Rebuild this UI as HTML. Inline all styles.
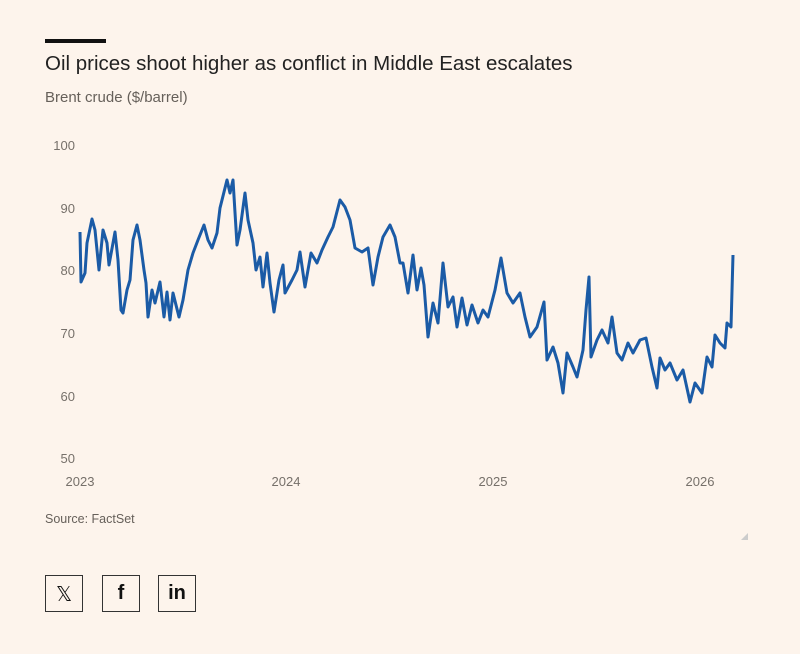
<!DOCTYPE html>
<html><head><meta charset="utf-8"><style>
body{margin:0;background:#fdf4ec;width:800px;height:654px;overflow:hidden;font-family:"Liberation Sans",sans-serif;position:relative}
.bar{position:absolute;left:45px;top:39px;width:61px;height:4px;background:#111}
.t{position:absolute;left:45px;top:52px;font-size:20.5px;color:#222}
.s{position:absolute;left:45px;top:89px;font-size:15px;color:#66605a}
.src{position:absolute;left:45px;top:512px;font-size:12.5px;color:#66605a}
.b{position:absolute;top:575px;width:38px;height:37px;border:1px solid #333;box-sizing:border-box;display:flex;align-items:center;justify-content:center;font-weight:bold;font-size:20px;color:#111}
</style></head><body>
<div class="bar"></div>
<div class="t">Oil prices shoot higher as conflict in Middle East escalates</div>
<div class="s">Brent crude ($/barrel)</div>
<svg style="position:absolute;left:0;top:0" width="800" height="654">
<g font-family="Liberation Sans" font-size="13" fill="#76706a">
<text x="75" y="150" text-anchor="end">100</text>
<text x="75" y="213" text-anchor="end">90</text>
<text x="75" y="275" text-anchor="end">80</text>
<text x="75" y="338" text-anchor="end">70</text>
<text x="75" y="401" text-anchor="end">60</text>
<text x="75" y="463" text-anchor="end">50</text>
<text x="80" y="486" text-anchor="middle">2023</text>
<text x="286" y="486" text-anchor="middle">2024</text>
<text x="493" y="486" text-anchor="middle">2025</text>
<text x="700" y="486" text-anchor="middle">2026</text>
</g>
<polyline fill="none" stroke="#1b5ba6" stroke-width="3" stroke-linejoin="round" points="80,232 81,282 85,273 87,243 92,219 95,230 99,270 103,230 107,243 109,265 115,232 118,260 121,310 123,313 127,290 130,280 133,240 137,225 140,240 144,270 146,283 148,317 152,290 155,303 160,282 164,317 167,292 170,320 173,293 179,317 183,300 188,270 193,253 198,240 204,225 208,240 212,248 217,233 220,208 227,180 230,193 233,180 237,245 240,230 245,193 248,220 253,243 256,270 260,257 263,287 267,253 270,283 274,312 279,280 283,265 285,293 292,280 297,270 300,252 305,287 311,253 317,263 322,250 328,237 333,227 340,200 345,207 350,220 355,248 362,252 368,248 373,285 378,257 383,237 390,225 395,237 400,263 403,263 408,293 413,255 417,290 421,268 424,285 428,337 433,303 438,323 443,263 448,307 453,297 457,327 462,298 467,325 472,305 478,323 483,310 488,317 495,290 501,258 507,293 513,303 520,293 525,317 530,337 537,327 544,302 547,360 553,347 558,363 563,393 567,353 573,367 577,377 583,350 586,310 589,277 591,357 597,340 602,330 608,343 612,317 617,353 622,360 628,343 633,353 640,340 646,338 652,367 657,388 660,358 665,370 670,363 677,380 683,370 690,402 695,383 702,393 707,357 712,367 715,335 720,343 725,348 727,323 731,327 733,255"/>
<path d="M741 540 L748 540 L748 533 Z" fill="#ccc"/>
</svg>
<div class="src">Source: FactSet</div>
<div class="b" style="left:45px;font-weight:normal;font-family:'DejaVu Sans',sans-serif">𝕏</div>
<div class="b" style="left:102px">f</div>
<div class="b" style="left:158px">in</div>
</body></html>
